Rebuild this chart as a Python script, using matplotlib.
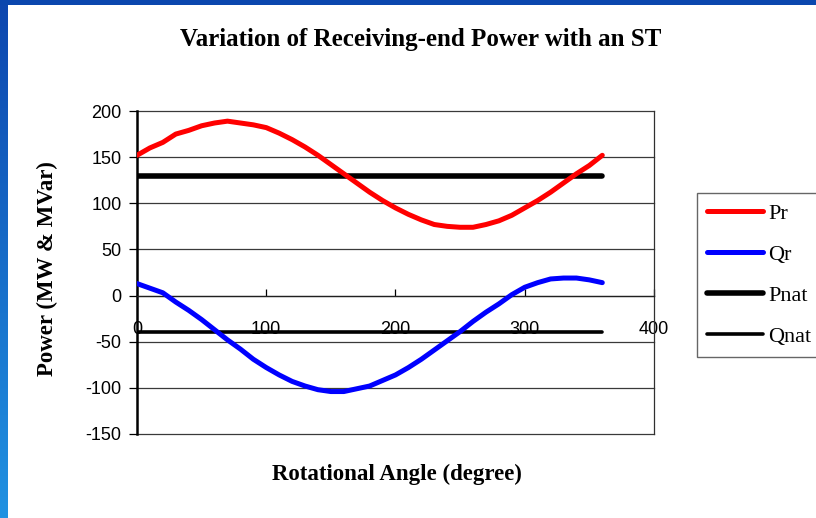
'''
plot of receiving-end real / reactive power against the rotational angle of the ST
'''

import numpy as np
import matplotlib.pyplot as plt
from matplotlib.patches import Rectangle


# rotational angle of the sen transformer (degree)
ANGLE = [0, 10, 20, 30, 40, 50, 60, 70, 80, 90, 100, 110, 120, 130, 140, 150, 160, 170,
         180, 190, 200, 210, 220, 230, 240, 250, 260, 270, 280, 290, 300, 310, 320, 330,
         340, 350, 360]
# receiving-end real power (MW)
PR = [152, 160, 166, 175, 179, 184, 187, 189, 187, 185, 182, 176, 169, 161, 152, 142, 132,
      122, 112, 103, 95, 88, 82, 77, 75, 74, 74, 77, 81, 87, 95, 103, 112, 122, 132, 141, 152]
# receiving-end reactive power (MVar)
QR = [13, 8, 3, -7, -16, -26, -37, -48, -58, -69, -78, -86, -93, -98, -102, -104, -104,
      -101, -98, -92, -86, -78, -69, -59, -49, -39, -28, -18, -9, 1, 9, 14, 18, 19, 19, 17, 14]
# natural power levels
NAT_ANGLE = [0, 360]
PNAT = [130, 130]
QNAT = [-40, -40]

SERIF = ["Liberation Serif", "DejaVu Serif"]
SANS = ["Liberation Sans", "DejaVu Sans"]
W, H = 816, 518

plt.rcParams["axes.unicode_minus"] = False


def draw_slide_frame(fig):
    ''' blue slide edges: flat bar on top, vertical gradient on the left '''
    fig.patches.append(Rectangle((0, 1 - 5 / H), 1, 5 / H, transform=fig.transFigure,
                                 facecolor="#0B47AE", edgecolor="none", zorder=0))
    side = fig.add_axes([0, 0, 7 / W, 1 - 5 / H])
    top = np.array([0x0D, 0x47, 0xAF]) / 255
    bottom = np.array([0x21, 0x92, 0xE2]) / 255
    t = np.linspace(0, 1, 256)[:, None, None]
    grad = top * (1 - t) + bottom * t
    side.imshow(grad, aspect="auto", interpolation="bilinear")
    side.set_axis_off()


def main():
    fig = plt.figure(figsize=(W / 100, H / 100), dpi=100)
    draw_slide_frame(fig)

    ax = fig.add_axes([137 / W, 1 - 434 / H, (654 - 137) / W, (434 - 111) / H])
    ax.plot(ANGLE, PR, color="#FF0000", lw=3.6, solid_capstyle="round", label="Pr", zorder=4)
    ax.plot(ANGLE, QR, color="#0000FF", lw=3.6, solid_capstyle="round", label="Qr", zorder=4)
    ax.plot(NAT_ANGLE, PNAT, color="black", lw=4.0, solid_capstyle="round", label="Pnat", zorder=3)
    ax.plot(NAT_ANGLE, QNAT, color="black", lw=2.6, solid_capstyle="round", label="Qnat", zorder=3)

    ax.set_xlim(0, 400)
    ax.set_ylim(-150, 200)
    ax.set_xticks(np.arange(0, 401, 100))
    ax.set_yticks(np.arange(-150, 201, 50))
    ax.yaxis.grid(True, color="#3a3a3a", lw=0.9)
    for gl in ax.get_ygridlines():
        gl.set_clip_on(False)
    ax.set_axisbelow(True)

    # x axis crosses at zero, value axis on the left
    ax.spines["bottom"].set_position(("data", 0))
    ax.spines["bottom"].set_color("#202020")
    ax.spines["bottom"].set_linewidth(0.9)
    ax.spines["top"].set_visible(False)
    ax.spines["right"].set_color("#303030")
    ax.spines["right"].set_linewidth(0.9)
    ax.spines["left"].set_color("black")
    ax.spines["left"].set_linewidth(1.8)

    ax.tick_params(axis="x", direction="in", length=5, width=0.9, pad=18, colors="black")
    ax.tick_params(axis="y", direction="out", length=6, width=0.9, pad=5)
    for lab in ax.get_xticklabels() + ax.get_yticklabels():
        lab.set_family(SANS)
        lab.set_fontsize(13)

    fig.text(0.515, 0.923, "Variation of Receiving-end Power with an ST", family=SERIF,
             fontweight="bold", fontsize=18, ha="center", va="center")
    fig.text(0.4865, 0.085, "Rotational Angle (degree)", family=SERIF,
             fontweight="bold", fontsize=16.5, ha="center", va="center")
    fig.text(0.0576, 0.481, "Power (MW & MVar)", family=SERIF, fontweight="bold",
             fontsize=16.5, ha="center", va="center", rotation=90)

    leg = ax.legend(loc="upper left", bbox_to_anchor=(697 / W, 1 - 193 / H),
                    bbox_transform=fig.transFigure, borderaxespad=0, fancybox=False,
                    prop={"family": SERIF, "size": 16}, handlelength=2.5,
                    handletextpad=0.25, labelspacing=0.93, borderpad=0.45)
    leg.get_frame().set_edgecolor("#404040")
    leg.get_frame().set_linewidth(1.0)

    fig.savefig("out.png", dpi=100)


if __name__ == "__main__":
    main()
